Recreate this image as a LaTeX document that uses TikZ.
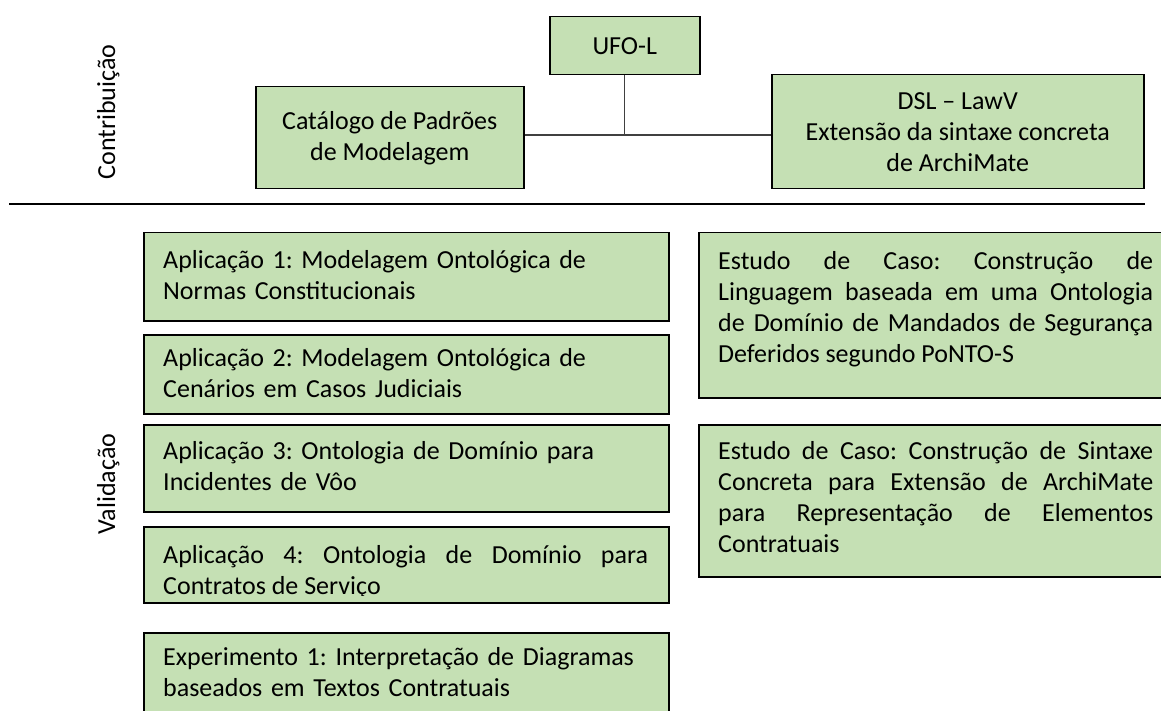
\documentclass[tikz,border=0pt]{standalone}
\usepackage{fontspec}
\setmainfont{Carlito}
\usetikzlibrary{positioning}
\definecolor{boxgreen}{HTML}{C5E0B4}
\definecolor{linkgray}{HTML}{404040}
\tolerance=10000
\hbadness=10000
\hyphenpenalty=10000
\frenchspacing
\begin{document}
\begin{tikzpicture}[x=1pt, y=-1pt,
    greenbox/.style={rectangle, draw=black, fill=boxgreen, line width=1.5pt, inner sep=0pt, anchor=north west},
    boxfont/.style={font=\fontsize{26}{31}\selectfont},
    topbox/.style={greenbox, boxfont, align=center},
    lefttext/.style={boxfont, inner sep=0pt, text width=485pt, align=left},
    leftjust/.style={boxfont, inner sep=0pt, text width=485pt, align=justify},
    rightjust/.style={boxfont, inner sep=0pt, text width=435pt, align=justify},
    sidelabel/.style={boxfont, rotate=90, anchor=base, inner sep=0pt},
    link/.style={draw=linkgray, line width=1.4pt},
    sepline/.style={draw=black, line width=2.6pt}]

  \useasboundingbox (0,0) rectangle (1161,711);
  \clip (0,0) rectangle (1161,711);

  % Contribuicao
  \node[sidelabel] (contrib) at (115,112) {Contribuição};
  \node[topbox, minimum width=150pt, minimum height=58pt] (ufo) at (549,16) {UFO-L};
  \node[topbox, minimum width=268pt, minimum height=102pt] (cat) at (255,86) {Catálogo de Padrões\\de Modelagem};
  \node[topbox, minimum width=372pt, minimum height=114pt] (dsl) at (771,74) {DSL – LawV\\Extensão da sintaxe concreta\\de ArchiMate};

  \coordinate (hline) at (0,135);
  \draw[link] (cat.east |- hline) -- (dsl.west |- hline);
  \draw[link] (ufo.south) -- (ufo.south |- hline);

  \coordinate (sepL) at (9,204);
  \draw[sepline] (sepL) -- (dsl.east |- sepL);

  % Validacao
  \node[sidelabel] (valid) at (115,484) {Validação};

  \node[greenbox, minimum width=525pt, minimum height=88pt] (app1) at (143,232) {};
  \node[lefttext, below right=18pt and 20pt of app1.north west] (app1txt)
    {Aplicação 1: Modelagem Ontológica de\\Normas Constitucionais};

  \node[greenbox, minimum width=525pt, minimum height=79pt] (app2) at (143,334) {};
  \node[lefttext, below right=14pt and 20pt of app2.north west] (app2txt)
    {Aplicação 2: Modelagem Ontológica de\\Cenários em Casos Judiciais};

  \node[greenbox, minimum width=525pt, minimum height=87pt] (app3) at (143,424) {};
  \node[lefttext, below right=17pt and 20pt of app3.north west] (app3txt)
    {Aplicação 3: Ontologia de Domínio para\\Incidentes de Vôo};

  \node[greenbox, minimum width=525pt, minimum height=76pt] (app4) at (143,526) {};
  \begin{scope}
    \clip ([yshift=8pt]app4.south west) rectangle (app4.north east);
    \node[leftjust, below right=19pt and 20pt of app4.north west] (app4txt)
      {Aplicação 4: Ontologia de Domínio para\linebreak Contratos de Serviço};
  \end{scope}

  \node[greenbox, minimum width=525pt, minimum height=100pt] (exp1) at (143,632) {};
  \node[lefttext, below right=15pt and 20pt of exp1.north west] (exp1txt)
    {Experimento 1: Interpretação de Diagramas\\baseados em Textos Contratuais};

  \node[greenbox, minimum width=480pt, minimum height=165pt] (caso1) at (698,232) {};
  \node[rightjust, below right=19pt and 20pt of caso1.north west] (caso1txt)
    {Estudo de Caso: Construção de\linebreak Linguagem baseada em uma Ontologia\linebreak de Domínio de Mandados de Segurança\linebreak Deferidos segundo PoNTO-S};

  \node[greenbox, minimum width=480pt, minimum height=152pt] (caso2) at (698,424) {};
  \node[rightjust, below right=17pt and 20pt of caso2.north west] (caso2txt)
    {Estudo de Caso: Construção de Sintaxe\linebreak Concreta para Extensão de ArchiMate\linebreak para Representação de Elementos\linebreak Contratuais};

\end{tikzpicture}
\end{document}
